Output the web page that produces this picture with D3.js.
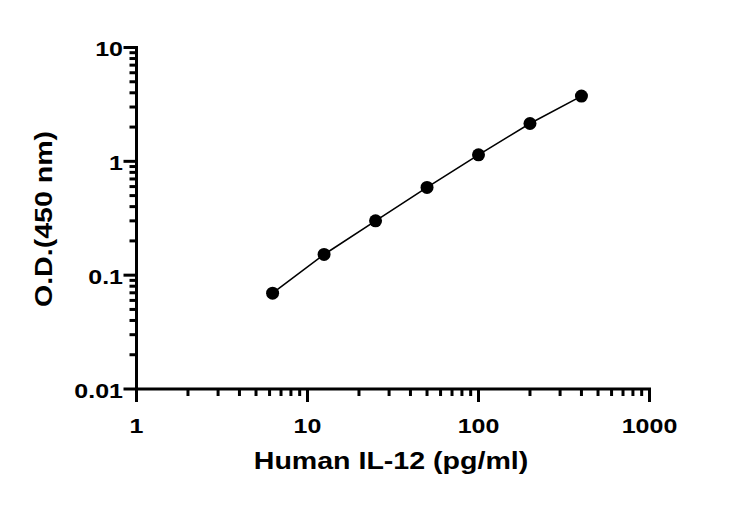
<!DOCTYPE html>
<html><head><meta charset="utf-8">
<script src="https://cdn.jsdelivr.net/npm/d3@7"></script>
<style>body{margin:0;background:#fff}svg{display:block}</style>
</head><body>
<script>
const concentrations = [6.25, 12.5, 25, 50, 100, 200, 400];
const odValues = [0.0695, 0.152, 0.30, 0.59, 1.14, 2.15, 3.74];
const xTickLabels = [1, 10, 100, 1000];
const yTickLabels = [0.01, 0.1, 1, 10];
const xTitle = "Human IL-12 (pg/ml)";
const yTitle = "O.D.(450 nm)";

const W = 730, H = 507;
const svg = d3.select("body").append("svg").attr("width", W).attr("height", H);
const x = d3.scaleLog().domain([1, 1000]).range([136.5, 649.5]);
const y = d3.scaleLog().domain([0.01, 10]).range([389, 47.5]);
const STRETCH = 1.19;

function minors(dom) {
  const out = [];
  for (let d = dom[0]; d < dom[1]; d *= 10) for (let k = 2; k <= 9; k++) out.push(d * k);
  return out;
}
const font = "Arial, 'Liberation Sans', sans-serif";
function widen(sel) {
  sel.each(function () {
    const L = this.getComputedTextLength();
    d3.select(this).attr("textLength", L * STRETCH).attr("lengthAdjust", "spacingAndGlyphs");
  });
}

// X axis
const gx = svg.append("g").attr("transform", `translate(0,${y(0.01)})`);
gx.append("line").attr("x1", x(1) - 1.5).attr("x2", x(1000) + 1.5).attr("stroke", "#000").attr("stroke-width", 3);
gx.selectAll(".mj").data(xTickLabels).join("line").attr("x1", d => x(d)).attr("x2", d => x(d)).attr("y1", 0).attr("y2", 13).attr("stroke", "#000").attr("stroke-width", 3);
gx.selectAll(".mn").data(minors([1, 1000])).join("line").attr("x1", d => x(d)).attr("x2", d => x(d)).attr("y1", 0).attr("y2", 7).attr("stroke", "#000").attr("stroke-width", 3);
gx.selectAll("text").data(xTickLabels).join("text").attr("x", d => x(d)).attr("y", 44).attr("text-anchor", "middle")
  .attr("font-family", font).attr("font-weight", "bold").attr("font-size", 21).text(d => d).call(widen);

// Y axis
const gy = svg.append("g").attr("transform", `translate(${x(1)},0)`);
gy.append("line").attr("y1", y(10) - 1.5).attr("y2", y(0.01) + 1.5).attr("stroke", "#000").attr("stroke-width", 3);
gy.selectAll(".mj").data(yTickLabels).join("line").attr("y1", d => y(d)).attr("y2", d => y(d)).attr("x1", 0).attr("x2", -13).attr("stroke", "#000").attr("stroke-width", 3);
gy.selectAll(".mn").data(minors([0.01, 10])).join("line").attr("y1", d => y(d)).attr("y2", d => y(d)).attr("x1", 0).attr("x2", -7).attr("stroke", "#000").attr("stroke-width", 3);
gy.selectAll("text").data(yTickLabels).join("text").attr("x", -13.5).attr("y", d => y(d) + 8.5).attr("text-anchor", "end")
  .attr("font-family", font).attr("font-weight", "bold").attr("font-size", 21).text(d => d).call(widen);

// Titles
svg.append("text").attr("x", 391).attr("y", 469).attr("text-anchor", "middle").attr("font-family", font)
  .attr("font-weight", "bold").attr("font-size", 24).text(xTitle).call(widen);
svg.append("text").attr("transform", `translate(52,219) rotate(-90)`).attr("text-anchor", "middle")
  .attr("font-family", font).attr("font-weight", "bold").attr("font-size", 24).text(yTitle).call(widen);

// Data
const pts = concentrations.map((c, i) => [c, odValues[i]]);
svg.append("path").datum(pts).attr("fill", "none").attr("stroke", "#000").attr("stroke-width", 1.6)
  .attr("d", d3.line().x(d => x(d[0])).y(d => y(d[1])));
svg.selectAll("circle").data(pts).join("circle").attr("cx", d => x(d[0])).attr("cy", d => y(d[1])).attr("r", 6.5).attr("fill", "#000");
</script>
</body></html>
